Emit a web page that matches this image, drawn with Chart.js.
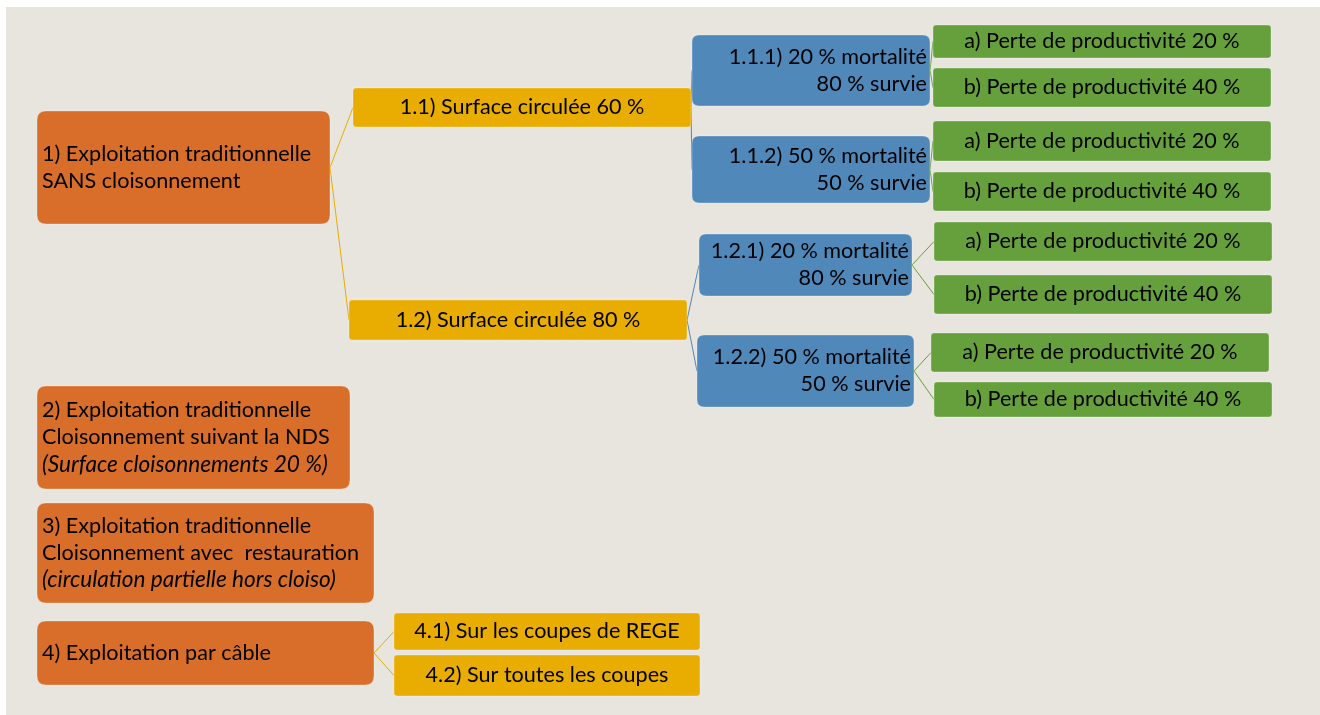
<!DOCTYPE html>
<html lang="fr">
<head>
<meta charset="utf-8">
<script src="https://cdn.jsdelivr.net/npm/chart.js@4/dist/chart.umd.min.js"></script>
<style>
  html, body { margin: 0; padding: 0; background: #fff; }
  #wrap { width: 1320px; height: 715px; }
</style>
</head>
<body>
<div id="wrap"><canvas id="tree" width="1320" height="715"></canvas></div>
<script>
// tree content: one entry per node
const nodeIds = ['1', '1.1', '1.1.1', '1.1.1a', '1.1.1b', '1.1.2', '1.1.2a', '1.1.2b',
  '1.2', '1.2.1', '1.2.1a', '1.2.1b', '1.2.2', '1.2.2a', '1.2.2b',
  '2', '3', '4', '4.1', '4.2'];

const nodeLines = [
  ['1) Exploitation traditionnelle', 'SANS cloisonnement'],
  ['1.1) Surface circulée 60 %'],
  ['1.1.1) 20 % mortalité', '80 % survie'],
  ['a) Perte de productivité 20 %'],
  ['b) Perte de productivité 40 %'],
  ['1.1.2) 50 % mortalité', '50 % survie'],
  ['a) Perte de productivité 20 %'],
  ['b) Perte de productivité 40 %'],
  ['1.2) Surface circulée 80 %'],
  ['1.2.1) 20 % mortalité', '80 % survie'],
  ['a) Perte de productivité 20 %'],
  ['b) Perte de productivité 40 %'],
  ['1.2.2) 50 % mortalité', '50 % survie'],
  ['a) Perte de productivité 20 %'],
  ['b) Perte de productivité 40 %'],
  ['2) Exploitation traditionnelle', 'Cloisonnement suivant la NDS', '(Surface cloisonnements 20 %)'],
  ['3) Exploitation traditionnelle', 'Cloisonnement avec  restauration', '(circulation partielle hors cloiso)'],
  ['4) Exploitation par câble'],
  ['4.1) Sur les coupes de REGE'],
  ['4.2) Sur toutes les coupes']
];

const nodeParent = [null, '1', '1.1', '1.1.1', '1.1.1', '1.1', '1.1.2', '1.1.2',
  '1', '1.2', '1.2.1', '1.2.1', '1.2', '1.2.2', '1.2.2',
  null, null, null, '4', '4'];

// tier of each node: 0 = mode, 1 = surface, 2 = mortalité, 3 = perte
const nodeTier = [0, 1, 2, 3, 3, 2, 3, 3, 1, 2, 3, 3, 2, 3, 3, 0, 0, 0, 1, 1];

// geometry (scale units), kept apart from the content: [left, top, right, bottom]
const boxLayout = {
  '1': [37, 111, 330, 224],
  '1.1': [353, 88, 691, 127],
  '1.1.1': [692, 35, 930, 106],
  '1.1.1a': [933, 25, 1271, 58],
  '1.1.1b': [933, 68, 1271, 107],
  '1.1.2': [692, 136, 930, 203],
  '1.1.2a': [933, 121, 1271, 161],
  '1.1.2b': [933, 172, 1271, 211],
  '1.2': [349, 300, 687, 340],
  '1.2.1': [699, 234, 912, 296],
  '1.2.1a': [934, 222, 1272, 261],
  '1.2.1b': [934, 275, 1272, 314],
  '1.2.2': [697, 335, 914, 407],
  '1.2.2a': [931, 333, 1269, 372],
  '1.2.2b': [934, 382, 1272, 417],
  '2': [37, 386, 350, 489],
  '3': [37, 503, 374, 603],
  '4': [37, 621, 374, 685],
  '4.1': [394, 613, 700, 650],
  '4.2': [394, 655, 700, 696]
};

const tierFill = ['#d86e2a', '#e8ad00', '#5088ba', '#66a03d'];
const tierRadius = [9, 3, 7, 3];
const tierAlign = ['left', 'center', 'right', 'center'];
const FONT = 'Lato, "Open Sans", sans-serif';
const LINE_H = 27;

function roundRect(ctx, x0, y0, x1, y1, r) {
  ctx.beginPath();
  ctx.moveTo(x0 + r, y0);
  ctx.lineTo(x1 - r, y0);
  ctx.quadraticCurveTo(x1, y0, x1, y0 + r);
  ctx.lineTo(x1, y1 - r);
  ctx.quadraticCurveTo(x1, y1, x1 - r, y1);
  ctx.lineTo(x0 + r, y1);
  ctx.quadraticCurveTo(x0, y1, x0, y1 - r);
  ctx.lineTo(x0, y0 + r);
  ctx.quadraticCurveTo(x0, y0, x0 + r, y0);
  ctx.closePath();
}

function pixBox(chart, id) {
  const b = boxLayout[id];
  const x = chart.scales.x, y = chart.scales.y;
  return [x.getPixelForValue(b[0]), y.getPixelForValue(b[1]), x.getPixelForValue(b[2]), y.getPixelForValue(b[3])];
}

const treePlugin = {
  id: 'treeBoxes',
  beforeDraw(chart) {
    const ctx = chart.ctx;
    const x = chart.scales.x, y = chart.scales.y;
    ctx.save();
    ctx.fillStyle = '#ffffff';
    ctx.fillRect(0, 0, chart.width, chart.height);
    ctx.fillStyle = '#e7e5de';
    const bx = x.getPixelForValue(6), by = y.getPixelForValue(7);
    ctx.fillRect(bx, by, x.getPixelForValue(1320) - bx, y.getPixelForValue(715) - by);
    ctx.restore();
  },
  afterDatasetsDraw(chart) {
    const ctx = chart.ctx;
    ctx.save();
    // connectors first, boxes on top
    nodeIds.forEach((id, i) => {
      const p = nodeParent[i];
      if (!p) return;
      const pb = pixBox(chart, p), cb = pixBox(chart, id);
      ctx.strokeStyle = tierFill[nodeTier[i]];
      ctx.lineWidth = 1;
      ctx.beginPath();
      ctx.moveTo(pb[2], (pb[1] + pb[3]) / 2);
      ctx.lineTo(cb[0], (cb[1] + cb[3]) / 2);
      ctx.stroke();
    });
    nodeIds.forEach((id, i) => {
      const b = pixBox(chart, id);
      const t = nodeTier[i];
      roundRect(ctx, b[0], b[1], b[2], b[3], tierRadius[t]);
      ctx.fillStyle = tierFill[t];
      ctx.fill();
      ctx.strokeStyle = 'rgba(255,255,255,0.3)';
      ctx.lineWidth = 1;
      ctx.stroke();

      const lines = nodeLines[i];
      const align = tierAlign[t];
      ctx.textAlign = align;
      ctx.textBaseline = 'middle';
      ctx.fillStyle = '#000000';
      const tx = align === 'left' ? b[0] + 5 : align === 'right' ? b[2] - 3 : (b[0] + b[2]) / 2;
      const cy = (b[1] + b[3]) / 2;
      lines.forEach((line, k) => {
        const italic = line.startsWith('(');
        ctx.font = italic ? 'italic 22.6px ' + FONT : '21.6px ' + FONT;
        ctx.fillText(line, tx, cy + (k - (lines.length - 1) / 2) * LINE_H);
      });
    });
    ctx.restore();
  }
};

new Chart(document.getElementById('tree'), {
  type: 'scatter',
  data: {
    datasets: [{
      label: 'noeuds',
      data: nodeIds.map((id) => {
        const b = boxLayout[id];
        return { x: (b[0] + b[2]) / 2, y: (b[1] + b[3]) / 2 };
      }),
      pointRadius: 0,
      pointHoverRadius: 0
    }]
  },
  options: {
    responsive: false,
    animation: false,
    layout: { padding: 0 },
    plugins: { legend: { display: false }, tooltip: { enabled: false } },
    scales: {
      x: { type: 'linear', min: 0, max: 1320, display: false },
      y: { type: 'linear', min: 0, max: 715, reverse: true, display: false }
    }
  },
  plugins: [treePlugin]
});
</script>
</body>
</html>
